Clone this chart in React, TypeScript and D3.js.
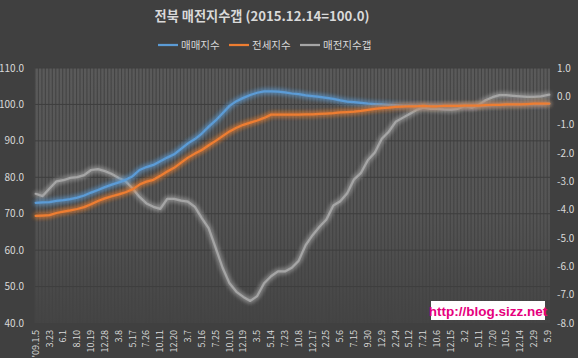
import React from "react";
import * as d3 from "d3";

const TITLE = "전북 매전지수갭 (2015.12.14=100.0)";
const SERIES_NAMES = ["매매지수", "전세지수", "매전지수갭"];
const N_WEEKS = 372;
const SAMPLE_STEP = 5;
const GRID_EVERY = 2.5;

const xTickLabels = [
  "'09.1.5", "3.23", "6.1", "8.10", "10.19", "12.28", "3.8", "5.17", "7.26", "10.11",
  "12.20", "3.7", "5.16", "7.25", "10.10", "12.19", "3.5", "5.14", "7.23", "10.8",
  "12.17", "2.25", "5.6", "7.15", "9.30", "12.9", "2.24", "5.12", "7.21", "10.6",
  "12.15", "3.2", "5.11", "7.20", "10.5", "12.14", "2.29", "5.9",
];
const LABEL_EVERY = 10;

const leftTicks = [40, 50, 60, 70, 80, 90, 100, 110];
const rightTicks = [1, 0, -1, -2, -3, -4, -5, -6, -7, -8];

// values sampled every 5 weeks (index 0,5,...,370) + last week (371)
const saleIndex = [
  73.0, 73.1, 73.2, 73.5, 73.7, 74.0, 74.4, 75.0, 75.8, 76.5,
  77.3, 78.0, 78.6, 79.3, 80.3, 82.0, 82.8, 83.4, 84.4, 85.4,
  86.3, 87.8, 89.3, 90.5, 92.0, 93.9, 95.6, 97.6, 99.6, 100.9,
  101.8, 102.6, 103.2, 103.6, 103.6, 103.5, 103.3, 103.0, 102.8, 102.5,
  102.3, 102.1, 101.8, 101.5, 101.1, 100.8, 100.6, 100.4, 100.2, 100.1,
  100.0, 99.9, 99.8, 99.7, 99.7, 99.6, 99.6, 99.6, 99.6, 99.6,
  99.6, 99.6, 99.6, 99.6, 99.6, 99.7, 99.8, 99.9, 100.0, 100.0,
  100.0, 100.1, 100.1, 100.1, 100.2, 100.2,
];
const jeonseIndex = [
  69.4, 69.5, 69.6, 70.2, 70.6, 70.9, 71.3, 71.8, 72.6, 73.5,
  74.2, 74.8, 75.3, 75.9, 76.7, 78.0, 78.8, 79.3, 80.4, 81.6,
  82.6, 84.0, 85.4, 86.5, 87.5, 88.8, 90.0, 91.3, 92.6, 93.6,
  94.4, 95.0, 95.6, 96.3, 97.2, 97.2, 97.2, 97.2, 97.2, 97.3,
  97.3, 97.4, 97.5, 97.6, 97.8, 97.9, 98.0, 98.2, 98.5, 98.8,
  99.0, 99.1, 99.3, 99.4, 99.5, 99.5, 99.6, 99.5, 99.5, 99.6,
  99.6, 99.6, 99.7, 99.7, 99.7, 99.8, 99.9, 99.9, 100.0, 100.0,
  100.0, 100.1, 100.2, 100.2, 100.2, 100.2,
];
const gapIndex = [
  -3.44, -3.52, -3.25, -3.0, -2.96, -2.88, -2.85, -2.78, -2.6, -2.57,
  -2.64, -2.74, -2.88, -3.0, -3.25, -3.55, -3.78, -3.9, -3.97, -3.62,
  -3.62, -3.68, -3.72, -3.9, -4.3, -4.66, -5.35, -6.05, -6.6, -6.9,
  -7.08, -7.22, -7.05, -6.6, -6.35, -6.18, -6.18, -6.05, -5.8, -5.25,
  -4.9, -4.6, -4.35, -3.85, -3.7, -3.42, -2.93, -2.7, -2.25, -1.98,
  -1.5, -1.25, -0.9, -0.76, -0.62, -0.48, -0.4, -0.44, -0.44, -0.46,
  -0.47, -0.44, -0.34, -0.4, -0.3, -0.14, -0.03, 0.04, 0.04, 0.02,
  0.0, -0.02, -0.02, 0.0, 0.05, 0.06,
];

const COLORS = ["#5b9bd5", "#ed7d31", "#a5a5a5"];

const W = 578;
const H = 358;
const PL = 35, PR = 550, PT = 68, PB = 323;

function weekOf(k: number) {
  return Math.min(k * SAMPLE_STEP, N_WEEKS - 1);
}

export default function App() {
  const xEdge = d3.scaleLinear().domain([0, N_WEEKS]).range([PL, PR]);
  const xPos = (i: number) => xEdge(i + 0.5);
  const yL = d3.scaleLinear().domain([40, 110]).range([PB, PT]);
  const yR = d3.scaleLinear().domain([-8, 1]).range([PB, PT]);

  const lineL = d3
    .line<number>()
    .x((_, k) => xPos(weekOf(k)))
    .y((v) => yL(v));
  const lineR = d3
    .line<number>()
    .x((_, k) => xPos(weekOf(k)))
    .y((v) => yR(v));

  const gridX = d3.range(0, N_WEEKS + 0.01, GRID_EVERY);
  const font = "'Noto Sans CJK KR', 'Noto Sans', sans-serif";
  const textColor = "#d9d9d9";

  const series = [
    { d: lineL(saleIndex), c: COLORS[0] },
    { d: lineL(jeonseIndex), c: COLORS[1] },
    { d: lineR(gapIndex), c: COLORS[2] },
  ];
  const order = [2, 0, 1];

  const legendItems = [
    { x: 158, name: SERIES_NAMES[0], c: COLORS[0] },
    { x: 229, name: SERIES_NAMES[1], c: COLORS[1] },
    { x: 300, name: SERIES_NAMES[2], c: COLORS[2] },
  ];

  return (
    <svg
      width={W}
      height={H}
      style={{ position: "absolute", left: 0, top: 0, display: "block" }}
      fontFamily={font}
    >
      <defs>
        <linearGradient id="pbg" gradientUnits="userSpaceOnUse" x1="0" y1={PT} x2="0" y2={PB}>
          <stop offset="0" stopColor="#5a5a5a" />
          <stop offset="0.55" stopColor="#555555" />
          <stop offset="1" stopColor="#444444" />
        </linearGradient>
        <filter id="glow" x="-10%" y="-30%" width="120%" height="160%">
          <feGaussianBlur in="SourceGraphic" stdDeviation="2.6" result="b" />
          <feMerge>
            <feMergeNode in="b" />
            <feMergeNode in="b" />
            <feMergeNode in="SourceGraphic" />
          </feMerge>
        </filter>
      </defs>
      <rect x={0} y={0} width={W} height={H} fill="#404040" />
      <rect x={PL} y={PT} width={PR - PL} height={PB - PT} fill="url(#pbg)" />
      <g>
        {gridX.map((i) => (
          <line
            key={i}
            x1={xEdge(i)}
            x2={xEdge(i)}
            y1={PT}
            y2={PB}
            stroke="#444444"
            strokeWidth={1.1}
          />
        ))}
      </g>
      <g>
        {leftTicks.slice(1).map((t) => (
          <line key={t} x1={PL} x2={PR} y1={yL(t)} y2={yL(t)} stroke="#3e3e3e" strokeWidth={1} />
        ))}
      </g>

      {order.map((si) => (
        <path
          key={si}
          d={series[si].d || ""}
          fill="none"
          stroke={series[si].c}
          strokeWidth={2.25}
          strokeLinejoin="round"
          strokeLinecap="round"
          filter="url(#glow)"
        />
      ))}

      {leftTicks.map((t) => (
        <text
          key={t}
          x={24}
          y={yL(t)}
          dy="0.35em"
          textAnchor="end"
          fontSize={10}
          fill={textColor}
        >
          {t.toFixed(1)}
        </text>
      ))}
      {rightTicks.map((t) => (
        <text
          key={t}
          x={557}
          y={yR(t)}
          dy="0.35em"
          textAnchor="start"
          fontSize={10}
          fill={textColor}
        >
          {t.toFixed(1)}
        </text>
      ))}
      {xTickLabels.map((lab, j) => {
        const x = xPos(j * LABEL_EVERY);
        return (
          <text
            key={j}
            transform={`translate(${x + 3},${330}) rotate(-90)`}
            textAnchor="end"
            fontSize={9}
            fill={textColor}
          >
            {lab}
          </text>
        );
      })}

      <text
        x={262}
        y={21}
        textAnchor="middle"
        fontSize={13.2}
        fontWeight="bold"
        fill={textColor}
      >
        {TITLE}
      </text>

      {legendItems.map((it) => (
        <g key={it.name}>
          <line x1={it.x} x2={it.x + 20} y1={45} y2={45} stroke={it.c} strokeWidth={2.25} />
          <text x={it.x + 23} y={45} dy="0.35em" fontSize={10.5} fill={textColor}>
            {it.name}
          </text>
        </g>
      ))}

      <rect x={431} y={301} width={114} height={19} fill="#ffffff" />
      <text
        x={488}
        y={311}
        dy="0.35em"
        textAnchor="middle"
        fontSize={13.5}
        fontWeight="bold"
        fill="#e6007e"
        fontFamily="'Liberation Sans', Arial, sans-serif"
      >
        http://blog.sizz.net
      </text>
    </svg>
  );
}
